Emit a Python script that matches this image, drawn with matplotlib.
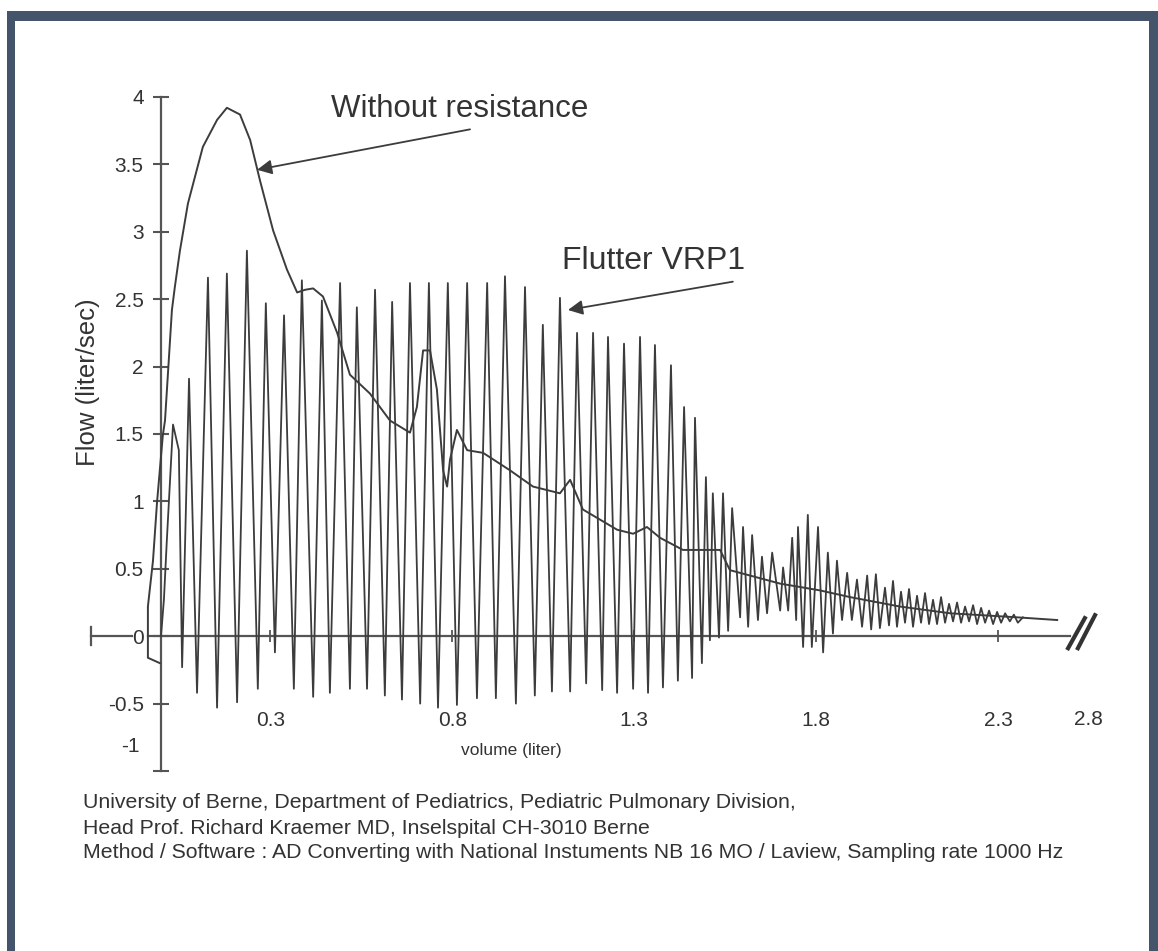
import matplotlib
matplotlib.use("Agg")
import matplotlib.pyplot as plt
from matplotlib.patches import Rectangle

# ---------------- data ----------------
plain_volume = [-0.003, -0.036, -0.036, -0.022, -0.011, 0.005, 0.011, 0.030, 0.038, 0.052,
                0.074, 0.115, 0.154, 0.181, 0.217, 0.245, 0.272, 0.308, 0.346, 0.374,
                0.396, 0.418, 0.445, 0.484, 0.519, 0.574, 0.629, 0.684, 0.703, 0.720,
                0.739, 0.758, 0.775, 0.786, 0.794, 0.813, 0.841, 0.885, 0.959, 1.022,
                1.096, 1.124, 1.159, 1.253, 1.297, 1.335, 1.371, 1.434, 1.536, 1.563,
                1.701, 1.810, 1.893, 2.030, 2.168, 2.352, 2.462]
plain_flow = [-0.20, -0.16, 0.22, 0.56, 0.99, 1.49, 1.60, 2.42, 2.59, 2.86,
              3.21, 3.63, 3.83, 3.92, 3.87, 3.68, 3.38, 3.01, 2.72, 2.55,
              2.57, 2.58, 2.52, 2.25, 1.94, 1.80, 1.60, 1.51, 1.70, 2.12,
              2.12, 1.83, 1.23, 1.11, 1.31, 1.53, 1.38, 1.36, 1.23, 1.11,
              1.06, 1.16, 0.94, 0.79, 0.76, 0.81, 0.73, 0.64, 0.64, 0.49,
              0.39, 0.34, 0.29, 0.22, 0.17, 0.14, 0.12]

flutter_volume = [0.000, 0.008, 0.016, 0.033, 0.049, 0.058, 0.077, 0.099, 0.129, 0.154,
                  0.181, 0.209, 0.236, 0.266, 0.288, 0.313, 0.338, 0.365, 0.387, 0.418,
                  0.442, 0.464, 0.492, 0.519, 0.538, 0.566, 0.588, 0.615, 0.635, 0.662,
                  0.684, 0.712, 0.736, 0.761, 0.788, 0.813, 0.841, 0.868, 0.896, 0.920,
                  0.945, 0.975, 1.000, 1.027, 1.049, 1.074, 1.096, 1.124, 1.143, 1.168,
                  1.187, 1.212, 1.228, 1.253, 1.272, 1.297, 1.316, 1.338, 1.357, 1.379,
                  1.401, 1.420, 1.437, 1.459, 1.467, 1.486, 1.497, 1.508, 1.516, 1.533,
                  1.544, 1.558, 1.569, 1.591, 1.599, 1.613, 1.624, 1.640, 1.651, 1.665,
                  1.679, 1.701, 1.709, 1.723, 1.734, 1.745, 1.750, 1.764, 1.777, 1.788,
                  1.805, 1.819, 1.832, 1.846, 1.857, 1.871, 1.885, 1.898, 1.912, 1.926,
                  1.940, 1.951, 1.964, 1.975, 1.989, 2.000, 2.011, 2.022, 2.033, 2.044,
                  2.055, 2.066, 2.077, 2.088, 2.099, 2.110, 2.121, 2.132, 2.143, 2.154,
                  2.165, 2.176, 2.187, 2.198, 2.209, 2.220, 2.231, 2.242, 2.253, 2.264,
                  2.275, 2.286, 2.297, 2.308, 2.319, 2.332, 2.343, 2.354, 2.368]
flutter_flow = [0.00, 0.27, 0.71, 1.57, 1.38, -0.23, 1.91, -0.42, 2.66, -0.53,
                2.69, -0.49, 2.86, -0.39, 2.47, -0.12, 2.38, -0.39, 2.64, -0.45,
                2.49, -0.42, 2.62, -0.39, 2.44, -0.39, 2.57, -0.44, 2.48, -0.47,
                2.62, -0.50, 2.62, -0.53, 2.62, -0.51, 2.62, -0.46, 2.62, -0.46,
                2.67, -0.50, 2.59, -0.44, 2.31, -0.41, 2.51, -0.41, 2.25, -0.35,
                2.25, -0.40, 2.22, -0.42, 2.17, -0.39, 2.22, -0.42, 2.16, -0.38,
                2.01, -0.33, 1.70, -0.31, 1.62, -0.20, 1.18, -0.03, 1.06, -0.01,
                1.06, 0.04, 0.95, 0.14, 0.81, 0.07, 0.75, 0.12, 0.59, 0.17,
                0.62, 0.19, 0.51, 0.19, 0.73, 0.12, 0.81, -0.08, 0.90, -0.08,
                0.81, -0.12, 0.62, 0.02, 0.56, 0.12, 0.47, 0.12, 0.42, 0.07,
                0.45, 0.05, 0.46, 0.06, 0.36, 0.08, 0.41, 0.07, 0.33, 0.10,
                0.35, 0.07, 0.30, 0.10, 0.32, 0.09, 0.27, 0.09, 0.29, 0.10,
                0.24, 0.11, 0.25, 0.10, 0.22, 0.11, 0.23, 0.09, 0.21, 0.10,
                0.19, 0.09, 0.18, 0.10, 0.17, 0.11, 0.16, 0.10, 0.14]

y_ticks = [4, 3.5, 3, 2.5, 2, 1.5, 1, 0.5, 0, -0.5, -1]
y_tick_labels = ["4", "3.5", "3", "2.5", "2", "1.5", "1", "0.5", "0", "-0.5", ""]
y_low_label = "-1"
x_ticks = [0.3, 0.8, 1.3, 1.8, 2.3]
x_tick_labels = ["0.3", "0.8", "1.3", "1.8", "2.3"]
x_break_label = "2.8"
label_plain = "Without resistance"
label_flutter = "Flutter VRP1"
y_title = "Flow (liter/sec)"
x_title = "volume (liter)"
footer_lines = [
    "University of Berne, Department of Pediatrics, Pediatric Pulmonary Division,",
    "Head Prof. Richard Kraemer MD, Inselspital CH-3010 Berne",
    "Method / Software : AD Converting with National Instuments NB 16 MO / Laview, Sampling rate 1000 Hz",
]

# ---------------- styling ----------------
plt.rcParams["font.family"] = ["Liberation Sans", "DejaVu Sans"]
INK = "#3c3c3c"
TXT = "#333333"
AXC = "#555555"
FRAME = "#44546A"

W, H = 1158, 951
fig = plt.figure(figsize=(W / 100, H / 100), dpi=100)
fig.patch.set_facecolor("white")


def fx(px):
    return px / W


def fy(py):
    return 1 - py / H


# frame (slide border)
fig.patches.append(Rectangle((fx(7), 0), fx(15) - fx(7), fy(11), transform=fig.transFigure,
                             facecolor=FRAME, edgecolor="none"))
fig.patches.append(Rectangle((fx(7), fy(21)), 1 - fx(7), fy(11) - fy(21), transform=fig.transFigure,
                             facecolor=FRAME, edgecolor="none"))
fig.patches.append(Rectangle((fx(1149), 0), fx(1158) - fx(1149), fy(11), transform=fig.transFigure,
                             facecolor=FRAME, edgecolor="none"))

ax = fig.add_axes([fx(161), fy(771), fx(1070) - fx(161), fy(97) - fy(771)])
ax.set_xlim(0, (1070 - 161) / 364)
ax.set_ylim(-1, 4)
ax.patch.set_alpha(0)

for s in ["top", "right"]:
    ax.spines[s].set_visible(False)
ax.spines["left"].set_color(AXC)
ax.spines["left"].set_linewidth(1.6)
ax.spines["bottom"].set_position(("data", 0))
ax.spines["bottom"].set_color(AXC)
ax.spines["bottom"].set_linewidth(1.6)

ax.set_yticks(y_ticks)
ax.set_yticklabels(y_tick_labels)
ax.tick_params(axis="y", direction="inout", length=11, width=1.5, color=AXC,
               pad=7, labelsize=15, labelcolor=TXT)
ax.set_xticks(x_ticks)
ax.set_xticklabels(x_tick_labels)
ax.tick_params(axis="x", direction="inout", length=8, width=1.3, color=AXC,
               pad=50, labelsize=15, labelcolor=TXT)

# curves
ax.plot(plain_volume, plain_flow, color=INK, lw=1.4, clip_on=False, zorder=3)
ax.plot(flutter_volume, flutter_flow, color=INK, lw=1.3, clip_on=False, zorder=3)

# axis decorations: stub left of "0", short extension, break marks
ax.plot([-0.036, 0], [0, 0], color=AXC, lw=1.6, clip_on=False)
ax.plot([-0.192, -0.080], [0, 0], color=AXC, lw=1.6, clip_on=False)
ax.plot([-0.192, -0.192], [-0.067, 0.067], color=AXC, lw=1.6, clip_on=False)
ax.plot([2.492, 2.538], [-0.089, 0.134], color="#333333", lw=3, clip_on=False)
ax.plot([2.519, 2.566], [-0.089, 0.156], color="#333333", lw=3, clip_on=False)

ax.text(2.547, -0.62, x_break_label, ha="center", va="center", fontsize=15, color=TXT, clip_on=False)
ax.text(-0.06, -0.82, y_low_label, ha="right", va="center", fontsize=15, color=TXT, clip_on=False)

# annotations
ax.annotate("", xy=(0.264, 3.46), xytext=(0.849, 3.76),
            arrowprops=dict(arrowstyle="-|>", color=INK, lw=1.3, mutation_scale=22,
                            shrinkA=0, shrinkB=0))
ax.text(0.821, 3.91, label_plain, ha="center", va="center", fontsize=22.5, color=TXT)
ax.annotate("", xy=(1.118, 2.42), xytext=(1.571, 2.63),
            arrowprops=dict(arrowstyle="-|>", color=INK, lw=1.3, mutation_scale=22,
                            shrinkA=0, shrinkB=0))
ax.text(1.354, 2.78, label_flutter, ha="center", va="center", fontsize=23, color=TXT)

# axis titles
fig.text(fx(88), fy(382), y_title, rotation=90, ha="center", va="center", fontsize=18.5, color=TXT)
fig.text(fx(511), fy(751), x_title, ha="center", va="center", fontsize=12.5, color=TXT)

# footer
for i, line in enumerate(footer_lines):
    fig.text(fx(83), fy(803 + 25 * i), line, ha="left", va="center", fontsize=15.3, color=TXT)

fig.savefig("out.png", dpi=100, facecolor="white")
